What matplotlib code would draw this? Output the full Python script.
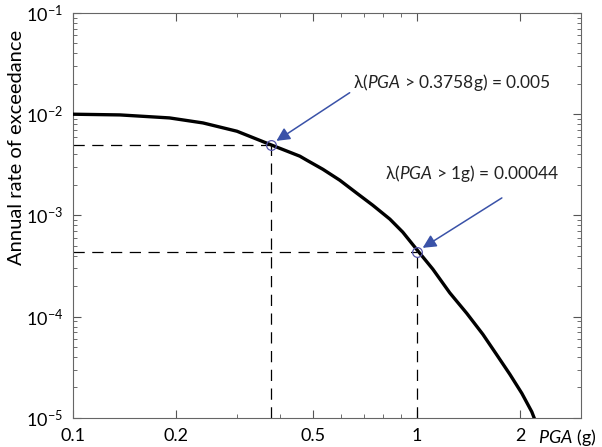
import matplotlib
matplotlib.use("Agg")
from matplotlib import pyplot as plt
from matplotlib.ticker import FixedLocator, FixedFormatter, LogLocator, NullFormatter

# hazard curve
pga = [0.1, 0.137, 0.191, 0.239, 0.3, 0.3758, 0.457, 0.479, 0.533, 0.597,
       0.669, 0.745, 0.835, 0.91, 1.0, 1.113, 1.247, 1.397, 1.556, 1.708,
       1.864, 2.02, 2.159, 2.25]
rate = [0.0100, 0.00984, 0.00919, 0.0082, 0.00679, 0.005, 0.00385, 0.00351,
        0.00286, 0.00223, 0.00166, 0.00126, 0.00092, 0.000685, 0.00046,
        0.000295, 0.000172, 0.000108, 6.7e-5, 4.2e-5, 2.7e-5, 1.75e-5,
        1.15e-5, 8e-6]

marked_pga = [0.3758, 1.0]
marked_rate = [0.005, 0.00044]
labels = ["0.3758g) = 0.005", "1g) = 0.00044"]
text_pos = [(0.651, 0.0204), (0.807, 0.00258)]
arrow_tail = [(0.638, 0.0163), (1.767, 0.00149)]

xticks = [0.1, 0.2, 0.5, 1, 2]
xticklabels = ["0.1", "0.2", "0.5", "1", "2"]

plt.rcParams['font.family'] = ['Lato', 'DejaVu Sans']
plt.rcParams['mathtext.fontset'] = 'custom'
plt.rcParams['mathtext.rm'] = 'Lato'
plt.rcParams['mathtext.it'] = 'Lato:italic'

fig = plt.figure(figsize=(6.02, 4.47), dpi=100)
ax = fig.add_axes([0.121, 0.065, 0.844, 0.906])

ax.set_xscale('log')
ax.set_yscale('log')
ax.set_xlim(0.1, 3.0)
ax.set_ylim(1e-5, 1e-1)

ax.plot(pga, rate, color='black', lw=2.4, solid_joinstyle='round', zorder=3)

# dashed guide lines
for xp, yp in zip(marked_pga, marked_rate):
    ax.plot([0.1, xp], [yp, yp], color='black', lw=0.9, dashes=(9, 6), zorder=2)
    ax.plot([xp, xp], [1e-5, yp], color='black', lw=0.9, dashes=(9, 6), zorder=2)

ax.plot(marked_pga, marked_rate, 'o', mfc='none', mec='#5555aa', ms=7, mew=0.9, zorder=4)

arrow_col = '#3a52a8'
for i in range(2):
    ax.text(text_pos[i][0], text_pos[i][1], "λ($\\mathit{PGA}$ > " + labels[i],
            fontsize=12.5, color='#222222', ha='left', va='center')
    ax.annotate("", xy=(marked_pga[i], marked_rate[i]), xytext=arrow_tail[i],
                arrowprops=dict(arrowstyle='-|>', color=arrow_col, lw=1.1,
                                mutation_scale=20, shrinkA=0, shrinkB=5))

ax.xaxis.set_major_locator(FixedLocator(xticks))
ax.xaxis.set_major_formatter(FixedFormatter(xticklabels))
ax.xaxis.set_minor_locator(LogLocator(base=10, subs=range(2, 10)))
ax.xaxis.set_minor_formatter(NullFormatter())
ax.yaxis.set_minor_locator(LogLocator(base=10, subs=range(2, 10), numticks=20))
ax.yaxis.set_minor_formatter(NullFormatter())

ax.tick_params(which='both', direction='in', top=True, right=True, color='#555555')
ax.tick_params(which='major', length=6, labelsize=13, pad=7)
ax.tick_params(which='minor', length=3)
for s in ax.spines.values():
    s.set_color('#666666')

ax.set_ylabel("Annual rate of exceedance", fontsize=14.5)
ax.yaxis.set_label_coords(-0.094, 0.667)
fig.text(0.893, 0.022, "$\\mathit{PGA}$ (g)", fontsize=13, ha='left', va='center')

fig.savefig("out.png", dpi=100)
